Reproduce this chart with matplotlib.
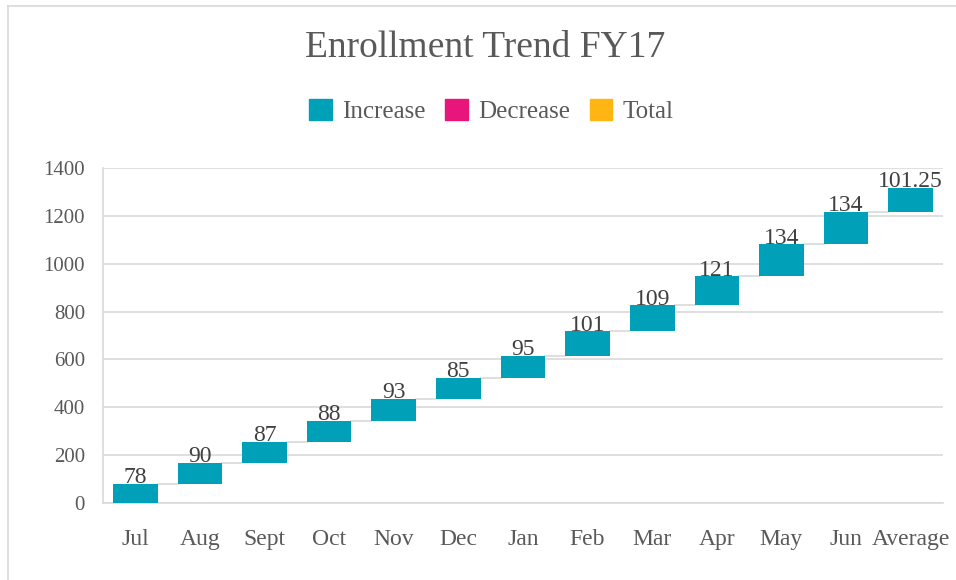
import matplotlib
matplotlib.use('Agg')
import matplotlib.pyplot as plt
from matplotlib.lines import Line2D
from matplotlib.patches import Patch
import numpy as np

plt.rcParams['font.family'] = ['Liberation Serif', 'DejaVu Serif']

# Data
categories = ['Jul', 'Aug', 'Sept', 'Oct', 'Nov', 'Dec', 'Jan', 'Feb', 'Mar', 'Apr', 'May', 'Jun', 'Average']
changes = [78, 90, 87, 88, 93, 85, 95, 101, 109, 121, 134, 134, 101.25]
labels = ['78', '90', '87', '88', '93', '85', '95', '101', '109', '121', '134', '134', '101.25']
yticks = [0, 200, 400, 600, 800, 1000, 1200, 1400]

c_inc = '#00A0B9'
c_dec = '#E8157A'
c_tot = '#FFB512'
txt = '#595959'
grid_c = '#D9D9D9'

tops = np.cumsum(changes)
bottoms = tops - np.array(changes)
x = np.arange(len(categories))

fig = plt.figure(figsize=(9.56, 5.8), dpi=100)
ax = fig.add_axes([0.1077, 0.1328, 0.8787, 0.5775])

ax.bar(x, changes, bottom=bottoms, width=0.69, color=c_inc, zorder=3)

# connector lines
for i in range(len(x) - 1):
    ax.plot([x[i] + 0.345, x[i + 1] - 0.345], [tops[i], tops[i]], color=grid_c, lw=1.2, zorder=2)

# data labels
for xi, t, lab in zip(x, tops, labels):
    ax.annotate(lab, (xi, t), xytext=(0, -3), textcoords='offset points',
                ha='center', va='bottom', fontsize=17, color='#404040', zorder=4)

ax.set_xlim(-0.5, len(categories) - 0.5)
ax.set_ylim(0, 1400)
ax.set_yticks(yticks)
ax.set_yticklabels([str(v) for v in yticks])
ax.set_xticks(x)
ax.set_xticklabels(categories)
ax.tick_params(axis='both', length=0, colors=txt)
ax.tick_params(axis='x', pad=19, labelsize=17)
ax.tick_params(axis='y', pad=13, labelsize=15)

ax.grid(axis='y', color=grid_c, lw=1.2, zorder=0)
ax.set_axisbelow(True)
for s in ['top', 'right']:
    ax.spines[s].set_visible(False)
ax.spines['left'].set_color(grid_c)
ax.spines['bottom'].set_color(grid_c)
ax.spines['left'].set_linewidth(1.2)
ax.spines['bottom'].set_linewidth(1.2)

fig.text(0.508, 0.917, 'Enrollment Trend FY17', ha='center', va='center', fontsize=27, color=txt)

handles = [Patch(color=c_inc), Patch(color=c_dec), Patch(color=c_tot)]
fig.legend(handles, ['Increase', 'Decrease', 'Total'], loc='center', bbox_to_anchor=(0.514, 0.808),
           ncol=3, frameon=False, fontsize=18, handlelength=0.9, handleheight=0.9,
           handletextpad=0.4, columnspacing=0.8, labelcolor=txt)

# outer frame
fig.add_artist(Line2D([0.008, 1.0], [0.99, 0.99], color=grid_c, lw=1.2))
fig.add_artist(Line2D([0.008, 0.008], [0.0, 0.99], color=grid_c, lw=1.2))

fig.savefig('out.png', dpi=100)
